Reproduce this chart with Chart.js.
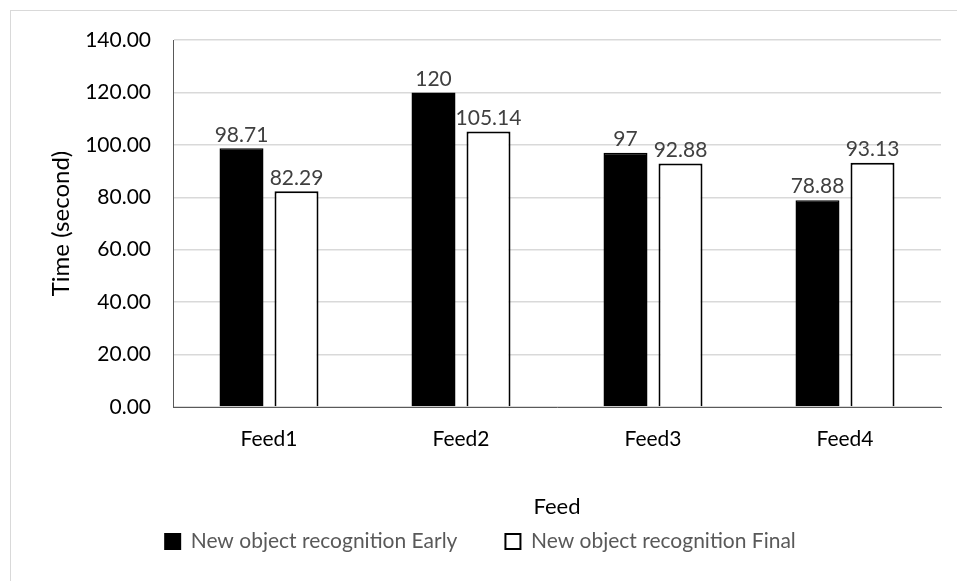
<!DOCTYPE html>
<html>
<head>
<meta charset="utf-8">
<script src="https://cdn.jsdelivr.net/npm/chart.js@4/dist/chart.umd.min.js"></script>
<style>
  html, body { margin: 0; padding: 0; background: #fff; overflow: hidden; }
  #frame { position: absolute; left: 10px; top: 10px; width: 980px; height: 620px; border: 1px solid #d9d9d9; box-sizing: border-box; }
  #wrap { position: absolute; left: 0; top: 0; width: 957px; height: 581px; }
</style>
</head>
<body>
<div id="frame"></div>
<div id="wrap"><canvas id="c" width="957" height="581"></canvas></div>
<script>
const categories = ["Feed1", "Feed2", "Feed3", "Feed4"];
const earlyValues = [98.71, 120, 97, 78.88];
const finalValues = [82.29, 105.14, 92.88, 93.13];
const earlyLabels = ["98.71", "120", "97", "78.88"];
const finalLabels = ["82.29", "105.14", "92.88", "93.13"];
const seriesNames = ["New object recognition Early", "New object recognition Final"];
const yTicks = [0, 20, 40, 60, 80, 100, 120, 140];

const FONT = "Lato, 'Liberation Sans', sans-serif";

const dataLabelPlugin = {
  id: 'dataLabels',
  afterDatasetsDraw(chart) {
    const ctx = chart.ctx;
    const texts = [earlyLabels, finalLabels];
    ctx.save();
    ctx.font = "21px " + FONT;
    ctx.fillStyle = "#404040";
    ctx.textAlign = "center";
    ctx.textBaseline = "bottom";
    chart.data.datasets.forEach((ds, di) => {
      const meta = chart.getDatasetMeta(di);
      meta.data.forEach((el, i) => {
        ctx.fillText(texts[di][i], el.x, el.y - 3);
      });
    });
    ctx.restore();
  }
};

new Chart(document.getElementById('c'), {
  type: 'bar',
  data: {
    labels: categories,
    datasets: [
      { label: seriesNames[0], data: earlyValues, backgroundColor: '#000000', borderColor: '#000000', borderWidth: 1.5 },
      { label: seriesNames[1], data: finalValues, backgroundColor: '#ffffff', borderColor: '#000000', borderWidth: 2 }
    ]
  },
  options: {
    responsive: false,
    animation: false,
    devicePixelRatio: 1,
    categoryPercentage: 0.573,
    barPercentage: 0.8,
    layout: { padding: { left: 20, right: 16, top: 40, bottom: 19 } },
    plugins: {
      tooltip: { enabled: false },
      legend: {
        position: 'bottom',
        labels: {
          font: { family: FONT, size: 21 },
          color: '#595959',
          boxWidth: 15,
          boxHeight: 15,
          padding: 6,
          generateLabels(chart) {
            return chart.data.datasets.map((ds, i) => ({
              text: i === 0 ? ds.label + '\u2003\u2003\u2002' : ds.label,
              fillStyle: ds.backgroundColor,
              strokeStyle: '#000000',
              lineWidth: 2,
              fontColor: '#595959',
              datasetIndex: i
            }));
          }
        }
      }
    },
    scales: {
      x: {
        grid: { display: false, drawTicks: false },
        border: { display: true, color: '#595959', width: 1 },
        ticks: { font: { family: FONT, size: 21 }, color: '#000000', padding: 20 },
        title: { display: true, text: 'Feed', font: { family: FONT, size: 22 }, color: '#000000', padding: { top: 0, bottom: 5 } },
        afterFit(s) { s.height = 118; }
      },
      y: {
        min: 0, max: 140,
        afterBuildTicks(s) { s.ticks = yTicks.map(v => ({ value: v })); },
        grid: { color: '#d9d9d9', lineWidth: 1.5, drawTicks: false },
        border: { display: true, color: '#595959', width: 1 },
        ticks: { font: { family: FONT, size: 21 }, color: '#000000', padding: 22, callback: v => Number(v).toFixed(2) },
        title: { display: true, text: 'Time (second)', font: { family: FONT, size: 24 }, color: '#000000', padding: { top: 27, bottom: 0 } },
        afterFit(s) { s.width = 153; }
      }
    }
  },
  plugins: [dataLabelPlugin]
});
</script>
</body>
</html>
